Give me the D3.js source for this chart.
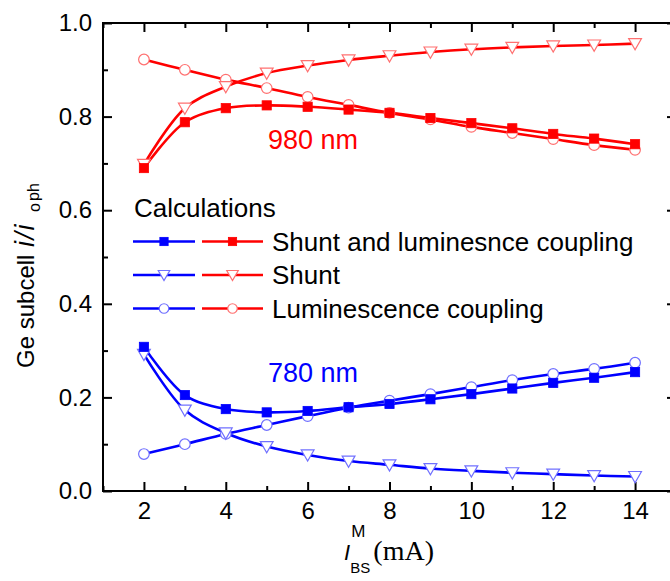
<!DOCTYPE html>
<html>
<head>
<meta charset="utf-8">
<script src="https://cdn.jsdelivr.net/npm/d3@7"></script>
<style>
  html, body { margin: 0; padding: 0; background: #fff; }
  svg { display: block; }
  text { font-family: "Liberation Sans", Arial, sans-serif; }
</style>
</head>
<body>
<svg id="chart" width="670" height="581"></svg>
<script>
// Bias current through the monitor junction (mA)
const currents = [2, 3, 4, 5, 6, 7, 8, 9, 10, 11, 12, 13, 14];

// 980 nm illumination
const red980ShuntLum = [0.690, 0.788, 0.818, 0.824, 0.821, 0.815, 0.808, 0.797, 0.786, 0.775, 0.763, 0.753, 0.741];
const red980Shunt    = [0.698, 0.818, 0.864, 0.893, 0.909, 0.921, 0.930, 0.938, 0.944, 0.948, 0.951, 0.953, 0.956];
const red980Lum      = [0.922, 0.900, 0.879, 0.861, 0.842, 0.825, 0.808, 0.794, 0.778, 0.765, 0.752, 0.739, 0.729];

// 780 nm illumination
const blue780ShuntLum = [0.308, 0.205, 0.175, 0.168, 0.171, 0.179, 0.186, 0.196, 0.207, 0.219, 0.231, 0.242, 0.254];
const blue780Shunt    = [0.292, 0.173, 0.124, 0.095, 0.077, 0.064, 0.056, 0.048, 0.043, 0.039, 0.036, 0.033, 0.031];
const blue780Lum      = [0.079, 0.100, 0.122, 0.141, 0.160, 0.178, 0.193, 0.207, 0.222, 0.237, 0.250, 0.261, 0.274];

const xTicks = [2, 4, 6, 8, 10, 12, 14];
const xMinorTicks = [1, 3, 5, 7, 9, 11, 13, 15];
const yTicks = [0.0, 0.2, 0.4, 0.6, 0.8, 1.0];
const yMinorTicks = [0.1, 0.3, 0.5, 0.7, 0.9];

const legendLabels = ["Shunt and luminesnce coupling", "Shunt", "Luminescence coupling"];
const markerKinds = ["square", "triangle", "circle"];

const RED = "#ff0000", BLUE = "#0000ff";
const RED_EDGE = "#ff7070", BLUE_EDGE = "#7070ff";

const svg = d3.select("#chart");
const plotLeft = 103, plotRight = 676, plotTop = 23, plotBottom = 491;

const x = d3.scaleLinear().domain([1, 15]).range([plotLeft, plotRight]);
const y = d3.scaleLinear().domain([0, 1]).range([plotBottom, plotTop]);

// Frame with inward ticks on all four sides
const axisColor = "#000";
svg.append("rect")
  .attr("x", plotLeft).attr("y", plotTop)
  .attr("width", plotRight - plotLeft).attr("height", plotBottom - plotTop)
  .attr("fill", "none").attr("stroke", axisColor).attr("stroke-width", 2);

function axisTicks(axis, len, values) {
  const g = svg.append("g");
  axis.tickValues(values).tickSizeInner(-len).tickSizeOuter(0).tickFormat("");
  g.call(axis);
  g.select(".domain").remove();
  g.selectAll("line").attr("stroke", axisColor).attr("stroke-width", 2);
  return g;
}
axisTicks(d3.axisBottom(x), 9, xTicks).attr("transform", `translate(0,${plotBottom})`);
axisTicks(d3.axisBottom(x), 5, xMinorTicks).attr("transform", `translate(0,${plotBottom})`);
axisTicks(d3.axisTop(x), 9, xTicks).attr("transform", `translate(0,${plotTop})`);
axisTicks(d3.axisTop(x), 5, xMinorTicks).attr("transform", `translate(0,${plotTop})`);
axisTicks(d3.axisLeft(y), 9, yTicks).attr("transform", `translate(${plotLeft},0)`);
axisTicks(d3.axisLeft(y), 5, yMinorTicks).attr("transform", `translate(${plotLeft},0)`);
axisTicks(d3.axisRight(y), 9, yTicks).attr("transform", `translate(${plotRight},0)`);
axisTicks(d3.axisRight(y), 5, yMinorTicks).attr("transform", `translate(${plotRight},0)`);

// Tick labels
const xLab = svg.append("g")
  .attr("transform", `translate(0,${plotBottom})`)
  .call(d3.axisBottom(x).tickValues(xTicks).tickSize(0).tickPadding(11).tickFormat(d3.format("d")));
xLab.select(".domain").remove();
xLab.selectAll("text").attr("font-size", 24).attr("fill", "#000")
  .attr("font-family", "'Liberation Sans', Arial, sans-serif");

const yLab = svg.append("g")
  .attr("transform", `translate(${plotLeft},0)`)
  .call(d3.axisLeft(y).tickValues(yTicks).tickSize(0).tickPadding(11).tickFormat(d3.format(".1f")));
yLab.select(".domain").remove();
yLab.selectAll("text").attr("font-size", 24).attr("fill", "#000")
  .attr("font-family", "'Liberation Sans', Arial, sans-serif");

// Curves and markers
const series = [
  { values: red980Lum, color: RED, edge: RED_EDGE, kind: "circle" },
  { values: red980Shunt, color: RED, edge: RED_EDGE, kind: "triangle" },
  { values: red980ShuntLum, color: RED, edge: RED_EDGE, kind: "square" },
  { values: blue780Lum, color: BLUE, edge: BLUE_EDGE, kind: "circle" },
  { values: blue780Shunt, color: BLUE, edge: BLUE_EDGE, kind: "triangle" },
  { values: blue780ShuntLum, color: BLUE, edge: BLUE_EDGE, kind: "square" }
];

const line = d3.line()
  .x((d, i) => x(currents[i]))
  .y(d => y(d))
  .curve(d3.curveCatmullRom.alpha(0.5));

function drawMarker(g, kind, cx, cy, color, edge, scale) {
  const s = scale || 1;
  if (kind === "square") {
    const h = 4.6 * s;
    g.append("rect").attr("x", cx - h).attr("y", cy - h)
      .attr("width", 2 * h).attr("height", 2 * h)
      .attr("fill", color).attr("stroke", color).attr("stroke-width", 0.8);
  } else if (kind === "triangle") {
    const w = 6.4 * s, up = 5 * s, dn = 6.2 * s;
    g.append("path")
      .attr("d", `M${cx - w},${cy - up}L${cx + w},${cy - up}L${cx},${cy + dn}Z`)
      .attr("fill", "#fff").attr("stroke", edge).attr("stroke-width", 1.2);
  } else {
    g.append("circle").attr("cx", cx).attr("cy", cy).attr("r", 5.3 * s)
      .attr("fill", "#fff").attr("stroke", edge).attr("stroke-width", 1.2);
  }
}

const plot = svg.append("g");
series.forEach(s => {
  plot.append("path").datum(s.values)
    .attr("d", line)
    .attr("fill", "none").attr("stroke", s.color).attr("stroke-width", 2.6);
});
series.forEach(s => {
  const g = plot.append("g");
  s.values.forEach((v, i) => drawMarker(g, s.kind, x(currents[i]), y(v), s.color, s.edge));
});

// Wavelength annotations
svg.append("text").attr("x", 268).attr("y", 149)
  .attr("font-size", 27).attr("fill", RED).text("980 nm");
svg.append("text").attr("x", 268).attr("y", 382)
  .attr("font-size", 27).attr("fill", BLUE).text("780 nm");

// Legend
const legend = svg.append("g");
legend.append("text").attr("x", 134).attr("y", 217)
  .attr("font-size", 26).attr("fill", "#000").text("Calculations");
const rowY = [241.5, 275, 308.5];
legendLabels.forEach((label, i) => {
  const ly = rowY[i];
  [[133, 195, BLUE, BLUE_EDGE], [202, 263, RED, RED_EDGE]].forEach(([x0, x1, c, e]) => {
    legend.append("line").attr("x1", x0).attr("x2", x1).attr("y1", ly).attr("y2", ly)
      .attr("stroke", c).attr("stroke-width", 2.6);
    drawMarker(legend, markerKinds[i], (x0 + x1) / 2, ly, c, e, 0.9);
  });
  legend.append("text").attr("x", 272).attr("y", ly + 9)
    .attr("font-size", 26).attr("fill", "#000").text(label);
});

// Y axis title (rotated; positions run upward from the start of the text)
const yTitle = svg.append("g").attr("transform", "translate(34,368) rotate(-90)");
yTitle.append("text").attr("x", 0).attr("y", 0).attr("font-size", 24).attr("fill", "#000").text("Ge subcell");
const ratio = yTitle.append("text").attr("x", 121).attr("y", 0)
  .attr("font-size", 27).attr("font-style", "italic").attr("fill", "#000");
ratio.append("tspan").text("i");
ratio.append("tspan").attr("dx", 1.5).text("/");
ratio.append("tspan").attr("dx", 1.5).text("i");
yTitle.append("text").attr("x", 156).attr("y", 6).attr("font-size", 16).attr("fill", "#000").text("o");
yTitle.append("text").attr("x", 167).attr("y", 5).attr("font-size", 16).attr("fill", "#000").text("ph");

// X axis title
const xTitle = svg.append("text").attr("x", 344).attr("y", 560).attr("font-size", 22).attr("fill", "#000");
xTitle.append("tspan").attr("font-style", "italic").text("I");
xTitle.append("tspan").attr("font-size", 17).attr("dx", 1).attr("dy", -23).text("M");
xTitle.append("tspan").attr("font-size", 15).attr("dx", -15).attr("dy", 36).text("BS");
xTitle.append("tspan").attr("dy", -13).attr("dx", 3)
  .attr("font-family", "'Liberation Serif', 'Times New Roman', serif")
  .attr("font-size", 28).text("(mA)");
</script>
</body>
</html>
